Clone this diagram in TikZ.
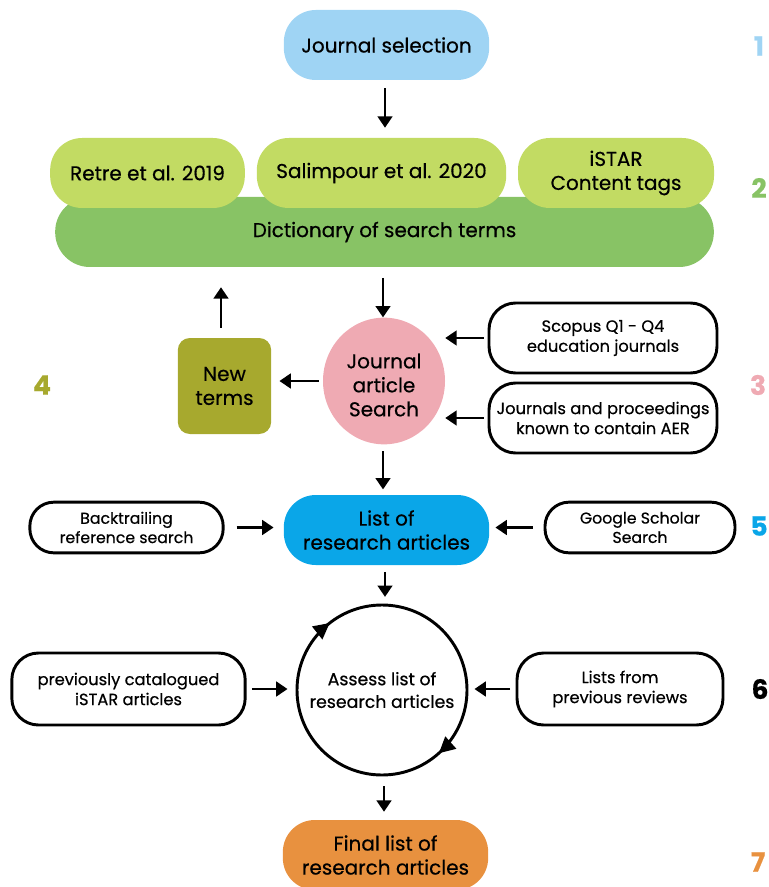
\documentclass[tikz,border=0pt]{standalone}
\usepackage{fontspec}
\setmainfont{Poppins}[FakeBold=0.5]
\usetikzlibrary{arrows.meta,shapes.geometric,calc}
\definecolor{cLightBlue}{HTML}{9FD4F4}
\definecolor{cLightGreen}{HTML}{C2DB63}
\definecolor{cGreen}{HTML}{88C365}
\definecolor{cPink}{HTML}{EFAAB3}
\definecolor{cOlive}{HTML}{A7A92E}
\definecolor{cBlue}{HTML}{0AA6E8}
\definecolor{cOrange}{HTML}{E8913F}
\tikzset{
  mainfont/.style={font=\fontsize{15}{18}\selectfont},
  smallfont/.style={font=\fontsize{12.2}{15}\selectfont},
  mainbox/.style={rectangle, rounded corners=24pt, minimum width=154pt, minimum height=52.5pt,
    align=center, mainfont, inner sep=2pt},
  srcbox/.style={rectangle, rounded corners=24pt, minimum height=52.5pt, fill=cLightGreen,
    align=center, mainfont, inner sep=2pt},
  whitebox/.style={rectangle, rounded corners=20pt, draw=black, line width=2.2pt, fill=white,
    minimum height=52.5pt, align=center, smallfont, inner sep=1pt},
  flowarrow/.style={line width=1.8pt, -{Triangle[length=8.5pt,width=11pt]}},
  numlabel/.style={font=\fontsize{20}{20}\selectfont\bfseries},
}
\begin{document}
\begin{tikzpicture}[x=0.75pt,y=-0.75pt]
\useasboundingbox (0,0) rectangle (768,887);

% step 1
\node[mainbox, fill=cLightBlue] (js) at (386.5,45) {Journal selection};

% step 2
\node[rectangle, rounded corners=26pt, fill=cGreen, minimum width=494pt, minimum height=52.5pt,
  mainfont] (dict) at (384.5,232) {Dictionary of search terms};
\node[srcbox, minimum width=146pt] (retre) at (147.5,173) {Retre et al. 2019};
\node[srcbox, minimum width=187pt] (sal) at (381.5,173) {Salimpour et al. 2020};
\node[srcbox, minimum width=147pt] (istar) at (616,173) {iSTAR\\Content tags};

% step 3
\node[ellipse, fill=cPink, minimum width=91.5pt, minimum height=95pt, inner sep=0pt] (jas) at (384,381) {};
\node[align=center, mainfont, inner sep=0pt] (jastext) at (384,385) {Journal\\article\\Search};
\node[whitebox, minimum width=171pt] (scopus) at (603,338) {Scopus Q1 - Q4\\education journals};
\node[whitebox, minimum width=171pt] (jp) at (603,418) {Journals and proceedings\\known to contain AER};

% step 4
\node[rectangle, rounded corners=9pt, fill=cOlive, minimum width=70pt, minimum height=72pt,
  align=center, mainfont] (nt) at (224.5,386) {New\\terms};

% step 5
\node[mainbox, fill=cBlue] (list) at (386.5,530) {List of\\research articles};
\node[whitebox, rounded corners=18pt, minimum width=145pt, minimum height=38pt, font=\fontsize{11.8}{14.5}\selectfont] (bt) at (126.5,527.5) {Backtrailing\\reference search};
\node[whitebox, rounded corners=18pt, minimum width=142.5pt, minimum height=38pt, font=\fontsize{11.8}{14.5}\selectfont] (gs) at (640,527.5) {Google Scholar\\Search};

% step 6
\node[circle, draw=black, line width=2.2pt, minimum size=127.5pt, inner sep=0pt, align=center,
  font=\fontsize{13}{17}\selectfont] (assess) at (382,690) {Assess list of\\research articles};
\node[whitebox, minimum width=175pt, minimum height=54pt] (prev) at (128.5,689) {previously catalogued\\iSTAR articles};
\node[whitebox, minimum width=154.5pt, minimum height=54pt] (lfr) at (620,689) {Lists from\\previous reviews};

% step 7
\node[mainbox, fill=cOrange] (final) at (385.5,855) {Final list of\\research articles};

% numbers
\node[numlabel, text=cLightBlue] (n1) at (759,46) {1};
\node[numlabel, text=cGreen] (n2) at (759,188) {2};
\node[numlabel, text=cPink] (n3) at (758,385) {3};
\node[numlabel, text=cOlive] (n4) at (42,385) {4};
\node[numlabel, text=cBlue] (n5) at (759,526) {5};
\node[numlabel, text=black] (n6) at (760,689) {6};
\node[numlabel, text=cOrange] (n7) at (758,862) {7};

% arrows
\draw[flowarrow, shorten <=6pt, shorten >=7.5pt] (js.south -| 385,0) -- (sal.north -| 385,0);
\draw[flowarrow, shorten <=8pt, shorten >=0pt] (dict.south -| 383,0) -- (jas.north -| 383,0);
\draw[flowarrow, shorten <=3pt, shorten >=6pt] (jas.west) -- (jas.west -| nt.east);
\draw[flowarrow, shorten <=7.5pt, shorten >=15pt] (nt.north -| 221,0) -- (dict.south -| 221,0);
\draw[flowarrow, shorten <=3pt] (scopus.west) -- (scopus.west -| jas.east);
\draw[flowarrow, shorten <=3pt] (jp.west) -- (jp.west -| jas.east);
\draw[flowarrow, shorten <=5pt, shorten >=4pt] (jas.south -| 383,0) -- (list.north -| 383,0);
\draw[flowarrow, shorten <=9pt, shorten >=7.5pt] (bt.east) -- (bt.east -| list.west);
\draw[flowarrow, shorten <=8pt, shorten >=4.5pt] (gs.west) -- (gs.west -| list.east);
\draw[flowarrow, shorten <=5pt, shorten >=5pt] (list.south -| 385,0) -- (assess.north -| 385,0);
\draw[flowarrow, shorten <=4pt, shorten >=6pt] (prev.east) -- (prev.east -| assess.west);
\draw[flowarrow, shorten <=4pt, shorten >=4.5pt] (lfr.west) -- (lfr.west -| assess.east);
\draw[flowarrow, shorten <=7.5pt, shorten >=6pt] (assess.south -| 384,0) -- (final.north -| 384,0);

% cycle arrowheads on the circle
\coordinate (c1a) at ($(assess.center)+(-56.2,-63.9)$);
\coordinate (c1b) at ($(assess.center)+(-52.3,-67)$);
\coordinate (c2a) at ($(assess.center)+(60.6,59.9)$);
\coordinate (c2b) at ($(assess.center)+(56.9,63.2)$);
\draw[line width=2pt, -{Triangle[length=12pt,width=12pt]}] (c1a) -- (c1b);
\draw[line width=2pt, -{Triangle[length=12pt,width=12pt]}] (c2a) -- (c2b);
\end{tikzpicture}
\end{document}
